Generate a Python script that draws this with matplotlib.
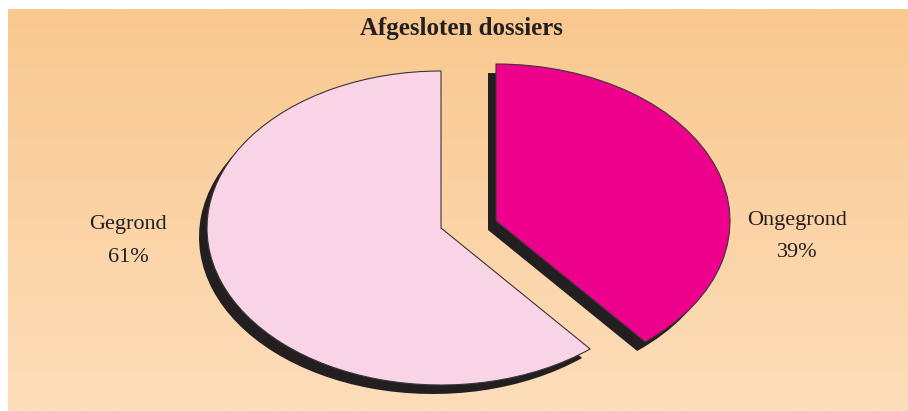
import matplotlib
matplotlib.use('Agg')
import matplotlib.pyplot as plt
import numpy as np

# ---- data ----
title = 'Afgesloten dossiers'
categories = ['Gegrond', 'Ongegrond']
values = [61, 39]

# ---- style ----
slice_colors = ['#F9D4E6', '#EC008C']
shadow_color = '#231F20'
# offset of the pulled-out slice, in pixels (x right, y down)
pull_px = [(0, 0), (55, -7)]

W, H = 908, 411
fig = plt.figure(figsize=(W / 100, H / 100), dpi=100)
fig.patch.set_facecolor('white')

# background with vertical gradient
bg = fig.add_axes([0, 0, 1, 1])
grad = np.linspace(0, 1, 256).reshape(-1, 1, 1)
top = np.array([249, 200, 143]) / 255
bot = np.array([253, 221, 186]) / 255
img = top + (bot - top) * grad
bg.imshow(img, extent=(8, W, H, 10), aspect='auto', zorder=0, interpolation='bilinear')
bg.set_xlim(0, W)
bg.set_ylim(H, 0)
bg.axis('off')

# pie geometry (pixels)
cx, cy = 441, 228
a, b = 234, 157
L = 1.5


def pie_axes(dx, dy):
    left = (cx + dx - L * a) / W
    bottom = (H - (cy + dy) - L * b) / H
    ax = fig.add_axes([left, bottom, 2 * L * a / W, 2 * L * b / H])
    ax.patch.set_alpha(0)
    return ax


def draw_pie(ax, colors, **wp):
    wedges, _ = ax.pie(values, colors=colors, startangle=90,
                       counterclock=True, wedgeprops=wp)
    for w, (px, py) in zip(wedges, pull_px):
        w.set_center((px / a, -py / b))
    ax.set_aspect('auto')
    ax.set_xlim(-L, L)
    ax.set_ylim(-L, L)
    ax.axis('off')


# shadow
sax = pie_axes(-8, 9)
draw_pie(sax, [shadow_color] * len(values), linewidth=0)

# main pie
ax = pie_axes(0, 0)
draw_pie(ax, slice_colors, edgecolor='#3a3535', linewidth=0.8)

# texts
font = 'Liberation Serif'
bg.text(461, 29, title, ha='center', va='center', fontsize=18,
        fontweight='bold', family=font, color='#231F20')

label_pos = [(128, 224, 257), (797, 220, 252)]
for (x, y1, y2), cat, val in zip(label_pos, categories, values):
    bg.text(x, y1, cat, ha='center', va='center', fontsize=16,
            family=font, color='#231F20')
    bg.text(x, y2, f'{val}%', ha='center', va='center', fontsize=16,
            family=font, color='#231F20')

fig.savefig('out.png', dpi=100)
